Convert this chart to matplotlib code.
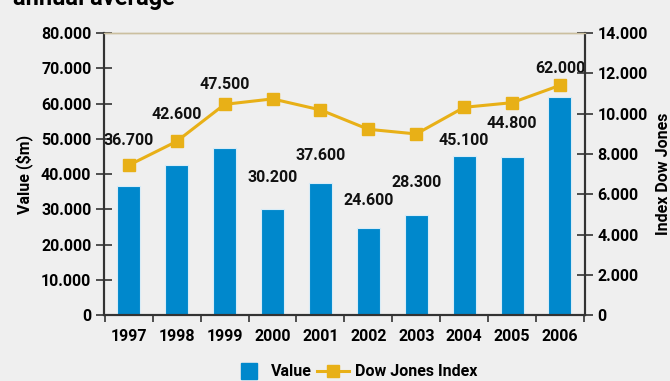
import matplotlib.pyplot as plt
import numpy as np
from matplotlib.ticker import FuncFormatter, FixedLocator
from matplotlib.lines import Line2D

years = ['1997', '1998', '1999', '2000', '2001', '2002', '2003', '2004', '2005', '2006']
value_m = [36700, 42600, 47500, 30200, 37600, 24600, 28300, 45100, 44800, 62000]
dow_jones = [7441, 8625, 10464, 10735, 10189, 9226, 8994, 10317, 10548, 11409]
value_labels = ['36.700', '42.600', '47.500', '30.200', '37.600', '24.600', '28.300', '45.100', '44.800', '62.000']

# where the value labels sit (left axis units)
label_y = [49600, 57000, 65500, 38900, 45400, 32600, 37700, 49600, 54500, 70100]

plt.rcParams['font.family'] = ['Roboto', 'DejaVu Sans']
plt.rcParams['font.weight'] = 'bold'

bg = '#efefef'
blue = '#0088cc'
gold = '#e8b017'
dark = '#333333'

fig = plt.figure(figsize=(6.7, 3.81), dpi=100, facecolor=bg)
ax = fig.add_axes([0.155, 0.173, 0.718, 0.740], facecolor=bg)
ax2 = ax.twinx()

x = np.arange(len(years))
ax.bar(x, value_m, width=0.48, color=blue, edgecolor='#d8ecf7', linewidth=0.8, zorder=2)
line, = ax2.plot(x, dow_jones, color=gold, lw=2.2, marker='s', markersize=8.5, zorder=3)

for xi, ly, txt in zip(x, label_y, value_labels):
    ax.text(xi, ly, txt, ha='center', va='center', fontsize=11.5, fontweight='bold', color='#111111', zorder=4)

ax.set_xlim(-0.52, len(years) - 0.48)
ax.set_ylim(0, 80000)
ax2.set_ylim(0, 14000)

fmt = FuncFormatter(lambda v, p: '0' if v == 0 else f'{int(v):,}'.replace(',', '.'))
ax.set_yticks(np.arange(0, 80001, 10000))
ax.yaxis.set_major_formatter(fmt)
ax2.set_yticks(np.arange(0, 14001, 2000))
ax2.yaxis.set_major_formatter(fmt)

ax.set_xticks(x)
ax.set_xticklabels(years)
ax.tick_params(axis='x', which='major', length=0, pad=10, labelsize=11.5)
ax.xaxis.set_minor_locator(FixedLocator(np.arange(-0.5, len(years), 1.0)))
ax.tick_params(axis='x', which='minor', length=5, width=1.2, color=dark, direction='out')

ax.tick_params(axis='y', direction='inout', length=12, width=1.2, color=dark, labelsize=11.5, pad=3)
ax2.tick_params(axis='y', direction='inout', length=12, width=1.2, color=dark, labelsize=11.5, pad=3)

for a in (ax, ax2):
    for s in ('left', 'right', 'bottom'):
        a.spines[s].set_color(dark)
        a.spines[s].set_linewidth(1.5)
    a.spines['top'].set_color('#cbbf9f')
    a.spines['top'].set_linewidth(1.0)

ax.set_ylabel('Value ($m)', fontsize=11.5, fontweight='bold')
ax.yaxis.set_label_coords(-0.148, 0.5)
ax2.set_ylabel('Index Dow Jones', fontsize=11.5, fontweight='bold')
ax2.yaxis.set_label_coords(1.147, 0.5)

fig.text(0.02, 0.988, 'annual average', fontsize=17, fontweight='bold', ha='left', va='baseline')

value_handle = Line2D([], [], ls='none', marker='s', markersize=11, color=blue)
fig.legend([value_handle, line], ['Value', 'Dow Jones Index'], loc='center', bbox_to_anchor=(0.53, 0.024),
           ncol=2, frameon=False, fontsize=11.5, handlelength=2.0, columnspacing=0.3, handletextpad=0.4)

fig.savefig('out.png', dpi=100, facecolor=bg)
